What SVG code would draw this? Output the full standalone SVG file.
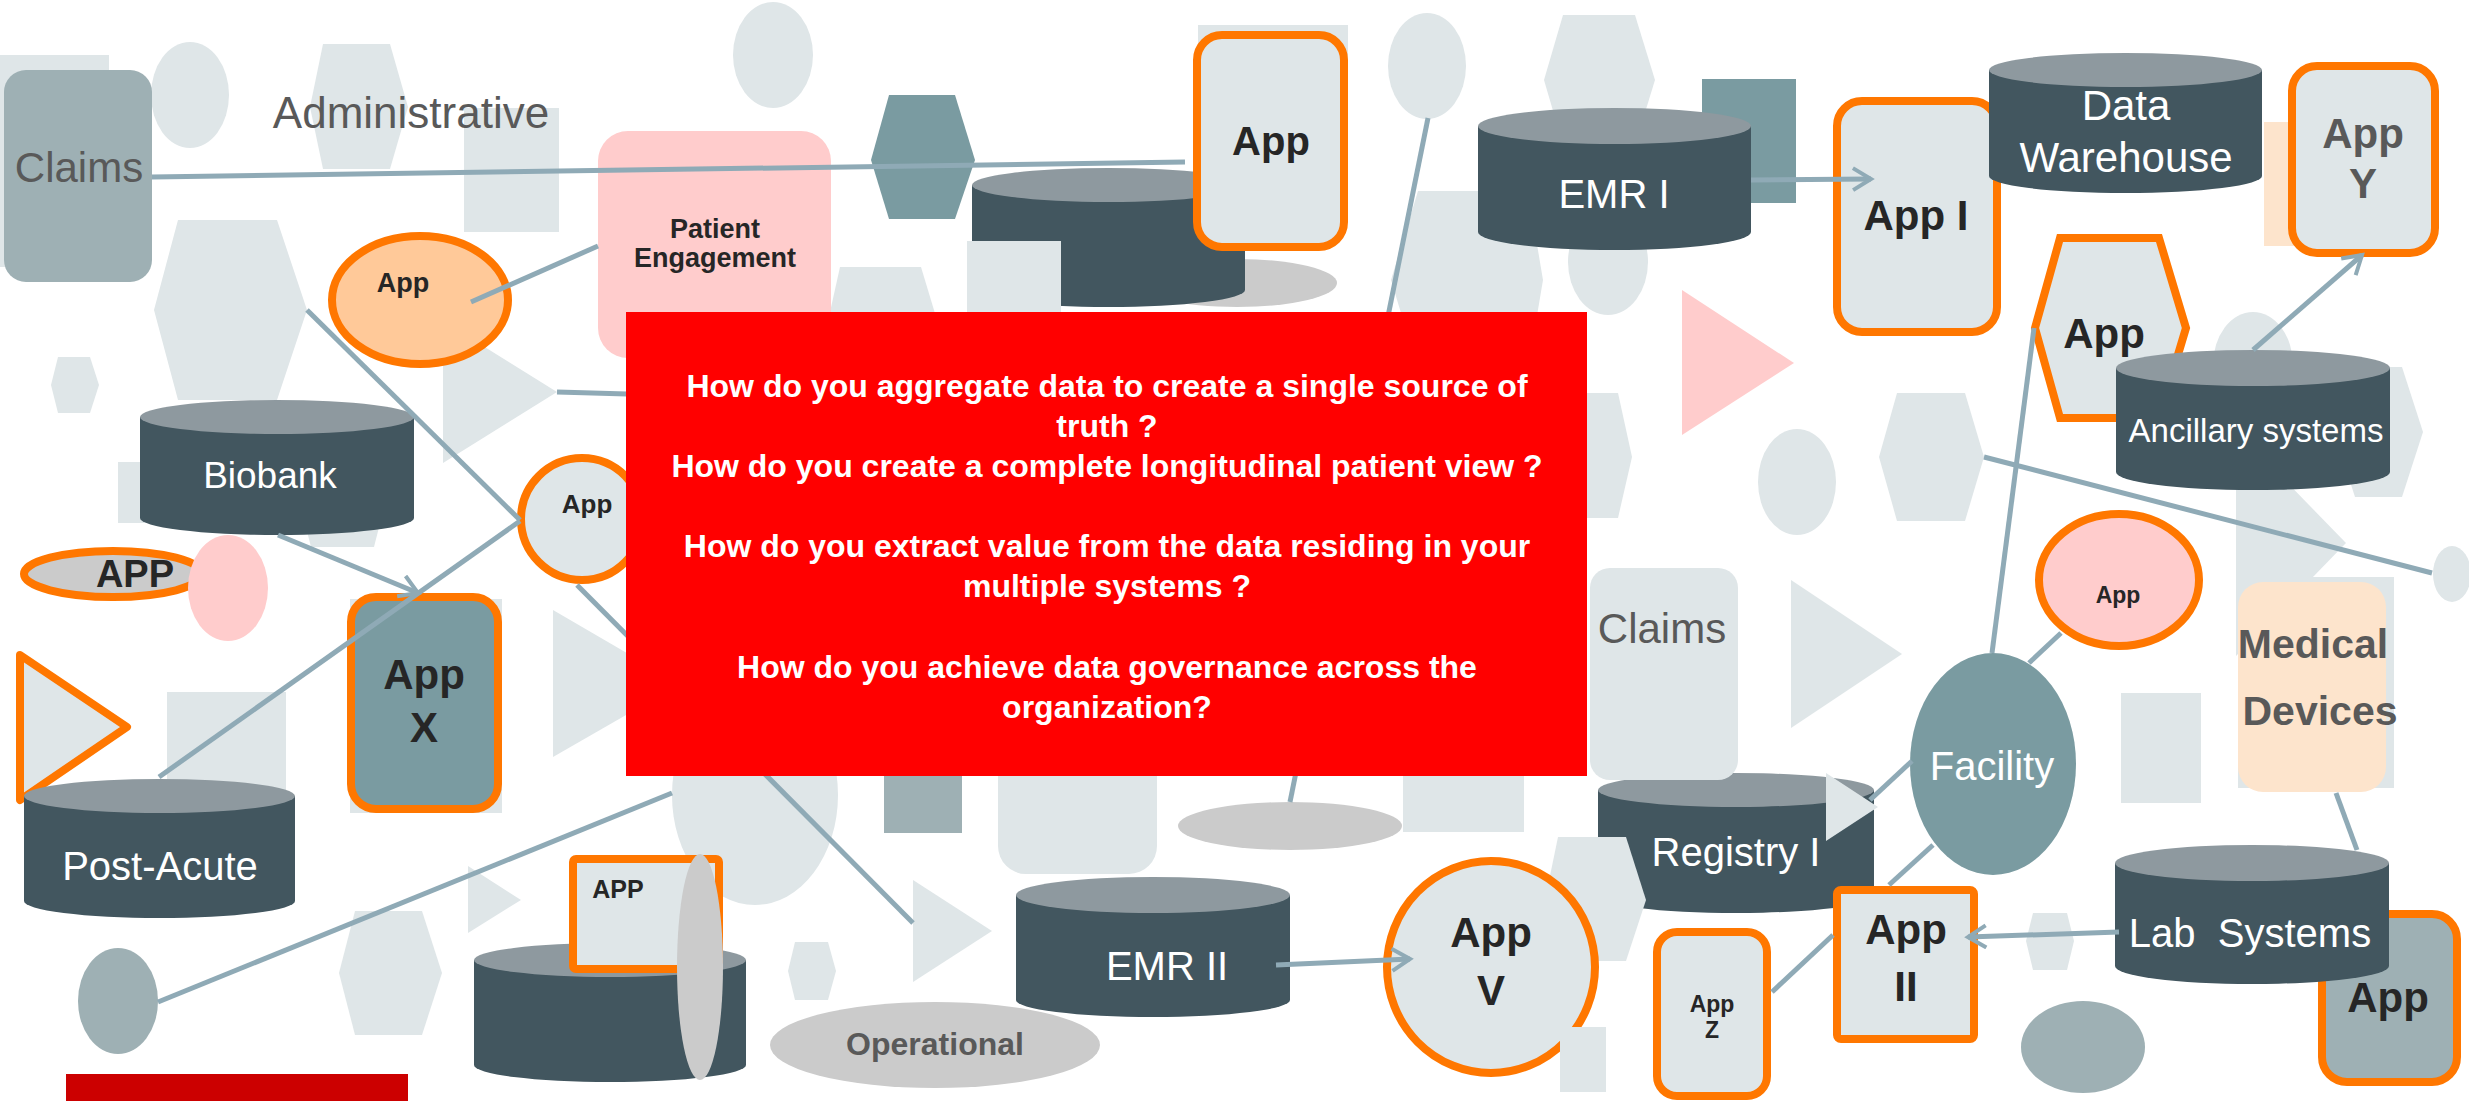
<svg xmlns="http://www.w3.org/2000/svg" width="2469" height="1101" viewBox="0 0 2469 1101">
<style>
.lt{fill:#DFE6E8}
.cb{fill:#42565F}
.ct{fill:#8E999F}
.gt{fill:#9EB0B4}
.tl{fill:#7A9BA1}
.gr{fill:#CBCBCB}
.pk{fill:#FFCCCC}
.pc{fill:#FDE4CC}
.ob{stroke:#FF7700;stroke-width:8}
.ln{stroke:#8FAAB6;stroke-width:5;fill:none}
.t{font-family:"Liberation Sans",Arial,sans-serif;text-anchor:middle}
.w{fill:#FFFFFF}
.b{font-weight:bold;fill:#262626}
.g{fill:#595959}
.q{font-weight:bold;fill:#FFFFFF;font-size:32px}
</style>
<defs>
<marker id="chev" markerUnits="userSpaceOnUse" markerWidth="26" markerHeight="26" viewBox="0 0 26 26" refX="22" refY="13" orient="auto">
<path d="M4,2 L22,13 L4,24" fill="none" stroke="#8FAAB6" stroke-width="4"/>
</marker>
</defs>
<rect width="2469" height="1101" fill="#FFFFFF"/>
<g id="background">
<rect class="lt" x="0" y="55" width="109" height="212"/>
<ellipse class="lt" cx="190" cy="95" rx="39" ry="53"/>
<polygon class="lt" points="323,44 390,44 408,107 390,169 323,169 310,107"/>
<rect class="lt" x="464" y="108" width="95" height="124"/>
<ellipse class="lt" cx="773" cy="55" rx="40" ry="53"/>
<polygon class="lt" points="178,220 277,220 307,310 277,400 178,400 154,310"/>
<polygon class="lt" points="58,357 90,357 99,385 90,413 58,413 51,385"/>
<polygon class="lt" points="443,321 557,392 443,463"/>
<rect class="lt" x="118" y="462" width="42" height="61"/>
<polygon class="lt" points="311,405 374,405 392,476 374,547 311,547 293,476"/>
<rect class="lt" x="167" y="692" width="119" height="98"/>
<polygon class="lt" points="553,610 680,684 553,757"/>
<ellipse class="lt" cx="755" cy="795" rx="83" ry="110"/>
<polygon class="lt" points="355,911 422,911 442,973 422,1035 355,1035 339,973"/>
<polygon class="lt" points="468,866 521,900 468,933"/>
<polygon class="lt" points="795,942 828,942 836,971 828,1000 795,1000 788,971"/>
<polygon class="lt" points="913,880 992,931 913,982"/>
<rect class="lt" x="998" y="740" width="159" height="134" rx="28"/>
<rect class="gt" x="884" y="740" width="78" height="93"/>
<rect class="lt" x="1403" y="740" width="121" height="92"/>
<polygon class="lt" points="840,267 921,267 940,330 921,393 840,393 826,330"/>
<ellipse class="lt" cx="1427" cy="66" rx="39" ry="53"/>
<polygon class="lt" points="1418,191 1528,191 1543,280 1528,369 1418,369 1391,280"/>
<polygon class="lt" points="1563,15 1635,15 1655,80 1635,145 1563,145 1544,80"/>
<ellipse class="lt" cx="1608" cy="262" rx="40" ry="53"/>
<polygon class="lt" points="1560,393 1618,393 1632,457 1618,518 1560,518 1546,457"/>
<polygon class="lt" points="1791,580 1902,654 1791,728"/>
<ellipse class="lt" cx="1797" cy="482" rx="39" ry="53"/>
<polygon class="lt" points="1897,393 1965,393 1984,457 1965,521 1897,521 1879,457"/>
<rect class="lt" x="2121" y="693" width="80" height="110"/>
<polygon class="lt" points="2033,913 2067,913 2074,941 2067,970 2033,970 2026,941"/>
<ellipse class="lt" cx="2253" cy="365" rx="40" ry="53"/>
<polygon class="lt" points="2355,367 2402,367 2423,432 2402,497 2355,497 2334,432"/>
<polygon class="lt" points="2236,430 2346,543 2236,656"/>
<rect class="lt" x="2238" y="577" width="156" height="211"/>
<ellipse class="lt" cx="2452" cy="574" rx="19" ry="28"/>
<polygon class="tl" points="889,95 955,95 975,160 955,219 889,219 871,160"/>
<polygon class="pk" points="1682,290 1794,363 1682,435"/>
<ellipse class="gt" cx="118" cy="1001" rx="40" ry="53"/>
<ellipse class="gt" cx="2083" cy="1047" rx="62" ry="46"/>
<ellipse class="gr" cx="1290" cy="826" rx="112" ry="24"/>
<rect x="66" y="1074" width="342" height="27" fill="#CC0000"/>
</g>
<g id="nodes">
<g id="claims-left">
<rect class="gt" x="4" y="70" width="148" height="212" rx="22"/>
<text class="t g" x="79" y="182" font-size="42">Claims</text>
</g>
<text id="administrative" class="t g" x="411" y="128" font-size="44">Administrative</text>
<g id="patient-engagement">
<rect class="pk" x="598" y="131" width="233" height="227" rx="30"/>
<text class="t b" x="715" y="238" font-size="27">Patient</text>
<text class="t b" x="715" y="267" font-size="27">Engagement</text>
</g>
<g id="app-peach">
<ellipse cx="420" cy="300" rx="88" ry="64" fill="#FFC999" class="ob"/>
<text class="t b" x="403" y="292" font-size="27">App</text>
</g>
<g id="biobank">
<path class="cb" d="M140,417 L140,518 A137,17 0 0 0 414,518 L414,417 Z"/>
<ellipse class="ct" cx="277" cy="417" rx="137" ry="17"/>
<text class="t w" x="270" y="488" font-size="37">Biobank</text>
</g>
<g id="app-circle">
<ellipse class="lt ob" cx="582" cy="519" rx="61" ry="61"/>
<text class="t b" x="587" y="513" font-size="26">App</text>
</g>
<g id="app-gray-ellipse">
<ellipse class="gr ob" cx="113" cy="574" rx="89" ry="23"/>
<text class="t b" x="135" y="587" font-size="38">APP</text>
</g>
<ellipse id="pink-ellipse" class="pk" cx="228" cy="588" rx="40" ry="53"/>
<g id="app-x">
<rect class="lt" x="350" y="599" width="152" height="214"/>
<rect class="tl ob" x="351" y="597" width="147" height="212" rx="25"/>
<text class="t b" x="424" y="689" font-size="42">App</text>
<text class="t b" x="424" y="742" font-size="42">X</text>
</g>
<polygon id="orange-triangle" class="lt ob" stroke-width="7" stroke-linejoin="round" points="20,655 127,727 20,800"/>
<g id="post-acute">
<path class="cb" d="M24,796 L24,901 A135.5,17 0 0 0 295,901 L295,796 Z"/>
<ellipse class="ct" cx="159.5" cy="796" rx="135.5" ry="17"/>
<text class="t w" x="160" y="880" font-size="40">Post-Acute</text>
</g>
<g id="app-square">
<path class="cb" d="M474,960 L474,1065 A136,17 0 0 0 746,1065 L746,960 Z"/>
<ellipse class="ct" cx="610" cy="960" rx="136" ry="17"/>
<rect class="lt ob" x="573" y="859" width="146" height="110" rx="3"/>
<text class="t b" x="618" y="898" font-size="25">APP</text>
<ellipse class="gr" cx="700" cy="967" rx="23" ry="113"/>
</g>
<g id="operational">
<ellipse class="gr" cx="935" cy="1045" rx="165" ry="43"/>
<text class="t g" font-weight="bold" x="935" y="1055" font-size="32">Operational</text>
</g>
<g id="emr-ii">
<path class="cb" d="M1016,895 L1016,1000 A137,17 0 0 0 1290,1000 L1290,895 Z"/>
<ellipse class="ct" cx="1153" cy="895" rx="137" ry="18"/>
<text class="t w" x="1167" y="980" font-size="40">EMR II</text>
</g>
<g id="registry-i">
<path class="cb" d="M1598,790 L1598,896 A138,17 0 0 0 1874,896 L1874,790 Z"/>
<ellipse class="ct" cx="1736" cy="790" rx="138" ry="17"/>
<text class="t w" x="1736" y="866" font-size="40">Registry I</text>
<polygon class="lt" points="1826,773 1878,807 1826,841"/>
</g>
<polygon class="lt" points="1558,837 1626,837 1646,900 1626,961 1558,961 1545,900"/>
<g id="app-v">
<ellipse class="lt ob" cx="1491" cy="967" rx="104" ry="106"/>
<text class="t b" x="1491" y="947" font-size="42">App</text>
<text class="t b" x="1491" y="1005" font-size="42">V</text>
<rect class="lt" x="1560" y="1027" width="46" height="65"/>
</g>
<g id="app-top">
<ellipse class="gr" cx="1237" cy="283" rx="100" ry="24"/>
<rect class="lt" x="1198" y="25" width="150" height="40"/>
<path class="cb" d="M972,185 L972,290 A136.5,17 0 0 0 1245,290 L1245,185 Z"/>
<ellipse class="ct" cx="1108.5" cy="185" rx="136.5" ry="17"/>
<rect class="lt ob" x="1197" y="35" width="147" height="212" rx="25"/>
<text class="t b" x="1271" y="155" font-size="40">App</text>
<rect class="lt" x="967" y="241" width="94" height="71"/>
</g>
<g id="emr-i">
<rect class="tl" x="1702" y="79" width="94" height="124"/>
<path class="cb" d="M1478,126 L1478,232 A136.5,18 0 0 0 1751,232 L1751,126 Z"/>
<ellipse class="ct" cx="1614.5" cy="126" rx="136.5" ry="18"/>
<text class="t w" x="1614" y="208" font-size="40">EMR I</text>
</g>
<g id="app-i">
<rect class="lt ob" x="1837" y="101" width="160" height="231" rx="25"/>
<text class="t b" x="1916" y="230" font-size="42">App I</text>
</g>
<g id="data-warehouse">
<path class="cb" d="M1989,70 L1989,176 A136.5,17 0 0 0 2262,176 L2262,70 Z"/>
<ellipse class="ct" cx="2125.5" cy="70" rx="136.5" ry="17"/>
<text class="t w" x="2126" y="120" font-size="42">Data</text>
<text class="t w" x="2126" y="172" font-size="42">Warehouse</text>
</g>
<g id="app-y">
<rect class="pc" x="2264" y="122" width="32" height="124"/>
<rect class="lt ob" x="2292" y="66" width="143" height="187" rx="25"/>
<text class="t g" font-weight="bold" x="2363" y="148" font-size="42">App</text>
<text class="t g" font-weight="bold" x="2363" y="198" font-size="42">Y</text>
</g>
<g id="app-hexagon">
<polygon class="lt ob" points="2060,238 2159,238 2186,328 2159,418 2060,418 2035,328"/>
<text class="t b" x="2104" y="348" font-size="42">App</text>
</g>
<g id="ancillary-systems">
<path class="cb" d="M2116,368 L2116,472 A137,18 0 0 0 2390,472 L2390,368 Z"/>
<ellipse class="ct" cx="2253" cy="368" rx="137" ry="18"/>
<text class="t w" x="2256" y="442" font-size="33">Ancillary systems</text>
</g>
<g id="app-pink">
<ellipse class="pk ob" cx="2119" cy="580" rx="80" ry="66"/>
<text class="t b" x="2118" y="603" font-size="23">App</text>
</g>
<g id="medical-devices">
<rect class="pc" x="2238" y="582" width="148" height="210" rx="25"/>
<text class="t g" font-weight="bold" x="2313" y="658" font-size="41">Medical</text>
<text class="t g" font-weight="bold" x="2320" y="725" font-size="41">Devices</text>
</g>
<g id="claims-right">
<rect class="lt" x="1590" y="568" width="148" height="212" rx="20"/>
<text class="t g" x="1662" y="643" font-size="42">Claims</text>
</g>
<g id="facility">
<ellipse class="tl" cx="1993" cy="764" rx="83" ry="111"/>
<text class="t w" x="1992" y="780" font-size="40">Facility</text>
</g>
<g id="app-bottom-right">
<rect class="gt ob" x="2322" y="914" width="135" height="168" rx="25"/>
<text class="t b" x="2388" y="1012" font-size="42">App</text>
</g>
<g id="lab-systems">
<path class="cb" d="M2115,863 L2115,966 A137,18 0 0 0 2389,966 L2389,863 Z"/>
<ellipse class="ct" cx="2252" cy="863" rx="137" ry="18"/>
<text class="t w" x="2250" y="947" font-size="40" xml:space="preserve">Lab  Systems</text>
</g>
<g id="app-ii">
<rect class="lt ob" x="1837" y="890" width="137" height="149" rx="4"/>
<text class="t b" x="1906" y="944" font-size="42">App</text>
<text class="t b" x="1906" y="1001" font-size="42">II</text>
</g>
<g id="app-z">
<rect class="lt ob" x="1657" y="932" width="110" height="164" rx="20"/>
<text class="t b" x="1712" y="1012" font-size="23">App</text>
<text class="t b" x="1712" y="1038" font-size="23">Z</text>
</g>
</g>
<g id="connectors">
<line class="ln" x1="152" y1="177" x2="1185" y2="162"/>
<line class="ln" x1="471" y1="302" x2="598" y2="246"/>
<line class="ln" x1="307" y1="310" x2="520" y2="520"/>
<line class="ln" x1="557" y1="392" x2="627" y2="394"/>
<line class="ln" x1="159" y1="777" x2="520" y2="521"/>
<line class="ln" x1="278" y1="535" x2="418" y2="593" marker-end="url(#chev)"/>
<line class="ln" x1="577" y1="585" x2="913" y2="923"/>
<line class="ln" x1="672" y1="793" x2="158" y2="1002"/>
<line class="ln" x1="1428" y1="118" x2="1290" y2="802"/>
<line class="ln" x1="1276" y1="965" x2="1410" y2="959" marker-end="url(#chev)"/>
<line class="ln" x1="1751" y1="180" x2="1871" y2="179" marker-end="url(#chev)"/>
<line class="ln" x1="2253" y1="350" x2="2362" y2="255" marker-end="url(#chev)"/>
<line class="ln" x1="2034" y1="328" x2="1992" y2="653"/>
<line class="ln" x1="1984" y1="457" x2="2432" y2="573"/>
<line class="ln" x1="2029" y1="663" x2="2061" y2="633"/>
<line class="ln" x1="1912" y1="761" x2="1870" y2="800"/>
<line class="ln" x1="1933" y1="845" x2="1889" y2="885"/>
<line class="ln" x1="1833" y1="935" x2="1772" y2="992"/>
<line class="ln" x1="2336" y1="793" x2="2357" y2="850"/>
<line class="ln" x1="2119" y1="932" x2="1968" y2="937" marker-end="url(#chev)"/>
</g>
<g id="questions">
<rect x="626" y="312" width="961" height="464" fill="#FF0000"/>
<text class="t q" x="1107" y="397">How do you aggregate data to create a single source of</text>
<text class="t q" x="1107" y="437">truth ?</text>
<text class="t q" x="1107" y="477">How do you create a complete longitudinal patient view ?</text>
<text class="t q" x="1107" y="557">How do you extract value from the data residing in your</text>
<text class="t q" x="1107" y="597">multiple systems ?</text>
<text class="t q" x="1107" y="678">How do you achieve data governance across the</text>
<text class="t q" x="1107" y="718">organization?</text>
</g>
</svg>
